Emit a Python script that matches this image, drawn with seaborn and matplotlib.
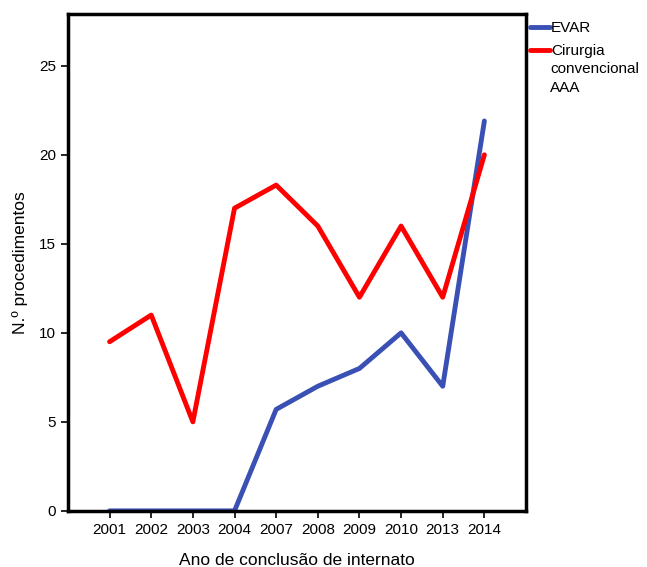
import seaborn as sns
import matplotlib.pyplot as plt
import pandas as pd

# Year of internship completion (categorical axis)
anos = ['2001', '2002', '2003', '2004', '2007', '2008', '2009', '2010', '2013', '2014']
evar = [0, 0, 0, 0, 5.7, 7, 8, 10, 7, 21.9]
convencional = [9.5, 11, 5, 17, 18.3, 16, 12, 16, 12, 20]

df = pd.DataFrame({
    'ano': anos * 2,
    'n': evar + convencional,
    'serie': ['EVAR'] * len(anos) + ['Cirurgia'] * len(anos),
})

sns.set_style("white")
plt.rcParams['font.family'] = ['Liberation Sans', 'DejaVu Sans']
plt.rcParams.update({'text.color': 'black', 'axes.labelcolor': 'black',
                     'xtick.color': 'black', 'ytick.color': 'black'})

fig = plt.figure(figsize=(6.47, 5.67), dpi=100)
ax = fig.add_axes([0.105, 0.099, 0.708, 0.876])

sns.lineplot(
    data=df, x='ano', y='n', hue='serie', sort=False,
    palette=['#3a50b4', '#ff0000'], linewidth=3.5, ax=ax,
)

ax.set_xlim(-1, 10)
ax.set_ylim(0, 27.9)
ax.set_yticks([0, 5, 10, 15, 20, 25])
ax.set_xlabel('Ano de conclusão de internato', fontsize=12.5, labelpad=12)
ax.set_ylabel('N.º procedimentos', fontsize=12.5, labelpad=8)
ax.tick_params(axis='both', labelsize=11, direction='out', length=5, width=1.2,
               bottom=True, left=True)

for s in ax.spines.values():
    s.set_linewidth(2.5)
    s.set_color('black')

ax.legend(loc='upper left', bbox_to_anchor=(0.995, 0.998), frameon=False,
          fontsize=11, handlelength=1.3, handletextpad=0.1, labelspacing=0.6,
          borderaxespad=0.0)
# continuation of the second legend label
fig.text(550 / 647, 1 - 62 / 567, 'convencional\nAAA', fontsize=11,
         va='top', ha='left', linespacing=1.5)

plt.savefig('out.png', dpi=100)
